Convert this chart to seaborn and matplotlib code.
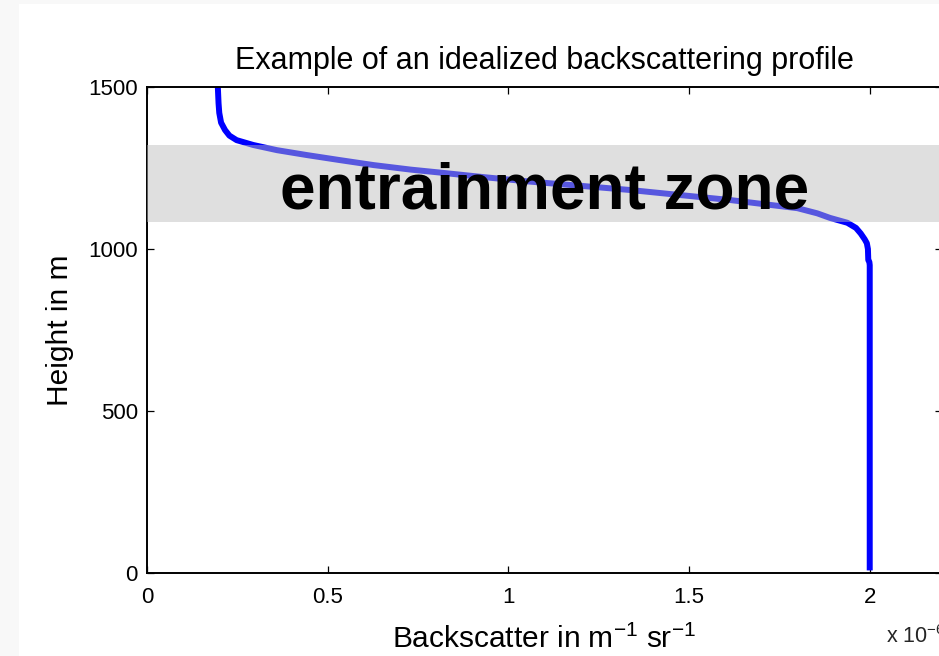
import matplotlib
matplotlib.use('Agg')
import pandas as pd
import matplotlib.pyplot as plt
import seaborn as sns
from matplotlib.patches import Rectangle

# idealized backscatter profile (x in units of 1e-6)
height_m = [1500, 1450, 1420, 1390, 1367, 1350, 1336, 1321, 1305, 1290,
            1275, 1259, 1245, 1236, 1222, 1208, 1195, 1182, 1166, 1151,
            1138, 1126, 1110, 1096, 1081, 1065, 1048, 1030, 1018, 1000,
            966, 960, 950, 8]
backscatter = [0.196, 0.198, 0.200, 0.205, 0.216, 0.228, 0.248, 0.294, 0.36, 0.442,
               0.53, 0.627, 0.73, 0.81, 0.93, 1.06, 1.20, 1.338, 1.48, 1.615,
               1.71, 1.80, 1.855, 1.89, 1.938, 1.962, 1.975, 1.986, 1.992, 1.995,
               1.996, 1.999, 2.0, 2.0]

# entrainment zone limits (m)
zone_bottom = 1083
zone_top = 1321

x_ticks = [0, 0.5, 1, 1.5, 2]
x_tick_labels = ['0', '0.5', '1', '1.5', '2']
y_ticks = [0, 500, 1000, 1500]
y_tick_labels = ['0', '500', '1000', '1500']

df = pd.DataFrame({'Backscatter': backscatter, 'Height': height_m})

sns.set_theme(style='white')
plt.rcParams['font.family'] = ['Liberation Sans', 'DejaVu Sans']
plt.rcParams['mathtext.fontset'] = 'custom'
plt.rcParams['mathtext.rm'] = 'Liberation Sans'
plt.rcParams['mathtext.default'] = 'regular'

fig = plt.figure(figsize=(9.39, 6.56), dpi=100, facecolor='#f8f8f8')
# white figure area, grey strip on the left and top like the screenshot
fig.patches.append(Rectangle((19 / 939, 0), 1, 1 - 4 / 656, transform=fig.transFigure,
                             facecolor='white', edgecolor='none', zorder=-10))

ax = fig.add_axes([147 / 939, 1 - 573 / 656, 795 / 939, 486 / 656])
ax.set_zorder(1)
ax.set_facecolor('white')

sns.lineplot(data=df, x='Backscatter', y='Height', sort=False, estimator=None,
             color='#0000ff', linewidth=4.3, ax=ax, zorder=2)
for l in ax.get_lines():
    l.set_solid_capstyle('butt')
    l.set_solid_joinstyle('round')

# grey band over the curve
ax.axhspan(zone_bottom, zone_top, facecolor='#bbbbbb', alpha=0.47, linewidth=0, zorder=3)
ax.text(1.1, 1126, 'entrainment zone', fontsize=46, fontweight='bold',
        ha='center', va='baseline', color='black', zorder=4)

ax.set_xlim(0, 2.2)
ax.set_ylim(0, 1500)
ax.set_xticks(x_ticks)
ax.set_xticklabels(x_tick_labels)
ax.set_yticks(y_ticks)
ax.set_yticklabels(y_tick_labels)

for s in ax.spines.values():
    s.set_visible(True)
    s.set_color('black')
    s.set_linewidth(1.4)
ax.tick_params(direction='in', length=5, width=0.9, color='black',
               top=True, right=True, bottom=True, left=True, labelsize=16,
               labelcolor='black')
ax.tick_params(axis='x', pad=10)
ax.tick_params(axis='y', pad=6.5)

ax.set_title('Example of an idealized backscattering profile', fontsize=22,
             color='black', pad=13)
ax.set_xlabel('Backscatter in m$^{-1}$ sr$^{-1}$', fontsize=21.5, color='black', labelpad=12)
ax.set_ylabel('Height in m', fontsize=21.5, color='black', labelpad=10)

fig.text(886 / 939, 1 - 643 / 656, 'x 10$^{-6}$', fontsize=15.5, ha='left', va='baseline')

fig.savefig('out.png', dpi=100, facecolor=fig.get_facecolor())
